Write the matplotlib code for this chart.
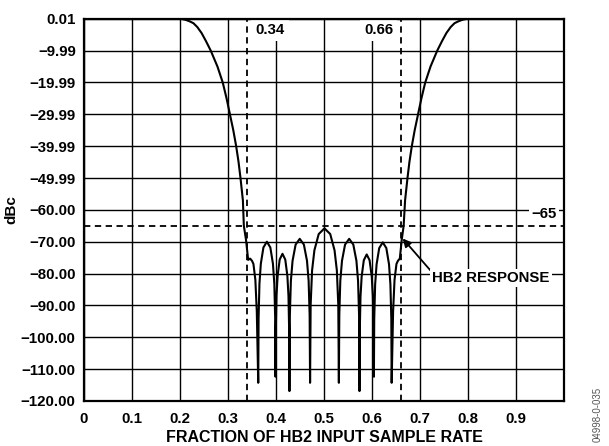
import matplotlib
matplotlib.use("Agg")
import matplotlib.pyplot as plt
import numpy as np

plt.rcParams['font.family'] = ['Liberation Sans', 'DejaVu Sans']
plt.rcParams['font.weight'] = 'bold'

# HB2 response (fraction of input rate, dBc)
freq_left = [0.000, 0.190, 0.200, 0.205, 0.212, 0.220, 0.228, 0.236, 0.245, 0.254,
             0.264, 0.278, 0.289, 0.297, 0.304, 0.311, 0.317, 0.322, 0.326, 0.331,
             0.333, 0.3375, 0.342, 0.346, 0.350, 0.353, 0.357, 0.360]
resp_left = [0.0, 0.0, 0.0, -0.1, -0.35, -0.8, -1.4, -2.6, -4.5, -7.0,
             -10.0, -15.0, -20.0, -25.0, -30.0, -35.0, -40.0, -45.0, -50.0, -57.0,
             -65.0, -69.4, -75.7, -75.3, -76.0, -77.0, -82.0, -92.0]

# stopband lobes, null to null
freq_stop = [0.363, 0.3637, 0.3655, 0.3684, 0.3738, 0.381, 0.3882, 0.3936, 0.3965, 0.3983,
             0.399, 0.3996, 0.4010, 0.4034, 0.4077, 0.4135, 0.4193, 0.4237, 0.4260, 0.4274,
             0.428, 0.4289, 0.4310, 0.4345, 0.4409, 0.4495, 0.4581, 0.4646, 0.4680, 0.4701,
             0.471, 0.4722, 0.4752, 0.4800, 0.4890, 0.5010, 0.5130, 0.5220, 0.5268, 0.5298,
             0.531, 0.5319, 0.5340, 0.5375, 0.5439, 0.5525, 0.5611, 0.5676, 0.5710, 0.5731,
             0.574, 0.5746, 0.5761, 0.5785, 0.5830, 0.5890, 0.5950, 0.5995, 0.6019, 0.6034,
             0.604, 0.6047, 0.6066, 0.6096, 0.6151, 0.6225, 0.6299, 0.6355, 0.6384, 0.6403,
             0.641]
resp_stop = [-114.3, -94.0, -83.2, -76.9, -71.8, -70.0, -71.8, -76.9, -83.2, -94.0,
             -112.4, -97.8, -87.0, -80.7, -75.6, -73.8, -75.6, -80.7, -87.0, -97.8,
             -116.9, -93.1, -82.3, -76.0, -70.9, -69.1, -70.9, -76.0, -82.3, -93.1,
             -114.3, -89.8, -79.0, -72.7, -67.6, -65.8, -67.6, -72.7, -79.0, -89.8,
             -114.3, -93.1, -82.3, -76.0, -70.9, -69.1, -70.9, -76.0, -82.3, -93.1,
             -116.9, -98.0, -87.2, -80.9, -75.8, -74.0, -75.8, -80.9, -87.2, -98.0,
             -112.4, -94.2, -83.4, -77.1, -72.0, -70.2, -72.0, -77.1, -83.4, -94.2,
             -114.3]

freq_right = [0.644, 0.647, 0.651, 0.654, 0.658, 0.662, 0.666, 0.669, 0.674, 0.678,
              0.683, 0.689, 0.696, 0.703, 0.711, 0.722, 0.736, 0.746, 0.755, 0.764,
              0.772, 0.780, 0.788, 0.795, 0.800, 0.810, 1.000]
resp_right = [-92.0, -82.0, -77.0, -76.0, -75.3, -69.4, -65.0, -57.0, -50.0, -45.0,
              -40.0, -35.0, -30.0, -25.0, -20.0, -15.0, -10.0, -7.0, -4.5, -2.6,
              -1.4, -0.8, -0.35, -0.1, 0.0, 0.0, 0.0]

x_ticks = [0, 0.1, 0.2, 0.3, 0.4, 0.5, 0.6, 0.7, 0.8, 0.9, 1.0]
x_labels = ['0', '0.1', '0.2', '0.3', '0.4', '0.5', '0.6', '0.7', '0.8', '0.9', '']
y_ticks = [0, -10, -20, -30, -40, -50, -60, -70, -80, -90, -100, -110, -120]
y_labels = ['0.01', '\u22129.99', '\u221219.99', '\u221229.99', '\u221239.99', '\u221249.99',
            '\u221260.00', '\u221270.00', '\u221280.00', '\u221290.00', '\u2212100.00',
            '\u2212110.00', '\u2212120.00']
band_edges = [0.34, 0.66]
limit_db = -65

freq = np.array(freq_left + freq_stop + freq_right)
resp = np.array(resp_left + resp_stop + resp_right)

fs = 10.8

fig = plt.figure(figsize=(6.09, 4.46), dpi=100)
ax = fig.add_axes([0.138, 0.101, 0.788, 0.857])

ax.set_xlim(0, 1.0)
ax.set_ylim(-120, 0.01)
ax.set_xticks(x_ticks)
ax.set_xticklabels(x_labels, fontsize=fs, fontweight='bold')
ax.set_yticks(y_ticks)
ax.set_yticklabels(y_labels, fontsize=fs, fontweight='bold')
ax.tick_params(axis='y', length=0, pad=6)
ax.tick_params(axis='x', length=0, pad=8)
ax.grid(True, color='black', linewidth=1.0)
ax.set_axisbelow(True)
for s in ax.spines.values():
    s.set_linewidth(1.6)
    s.set_zorder(6)

ax.plot(freq, resp, color='black', linewidth=1.5, zorder=3)

for e in band_edges:
    ax.axvline(e, color='black', linestyle=(0, (3.5, 2.5)), linewidth=1.3, zorder=5)
ax.axhline(limit_db, color='black', linestyle=(0, (3.5, 2.5)), linewidth=1.3, zorder=2)

box = dict(facecolor='white', edgecolor='none', pad=3)
ax.text(0.357, -3.6, '0.34', ha='left', va='center', fontsize=fs, fontweight='bold',
        bbox=box, zorder=4)
ax.text(0.644, -3.6, '0.66', ha='right', va='center', fontsize=fs, fontweight='bold',
        bbox=box, zorder=4)
ax.text(0.958, -61.3, '\u221265', ha='center', va='center', fontsize=fs,
        fontweight='bold', bbox=dict(facecolor='white', edgecolor='none', pad=1.5),
        zorder=4)
ax.annotate('HB2 RESPONSE', xy=(0.664, -69.0), xytext=(0.726, -81.5),
            ha='left', va='center', fontsize=fs, fontweight='bold',
            bbox=dict(facecolor='white', edgecolor='none', pad=1.5), zorder=4,
            arrowprops=dict(arrowstyle='-|>', color='black', lw=1.3,
                            mutation_scale=12, shrinkA=0, shrinkB=0,
                            relpos=(0.0, 0.9)))

ax.set_xlabel('FRACTION OF HB2 INPUT SAMPLE RATE', fontsize=11.5, fontweight='bold',
              labelpad=3)
ax.set_ylabel('dBc', fontsize=11, fontweight='bold', labelpad=2)

fig.text(0.981, 0.07, '04998-0-035', rotation=90, ha='center', va='center',
         fontsize=7, color='#555555', fontweight='normal')

fig.savefig('out.png', dpi=100)
